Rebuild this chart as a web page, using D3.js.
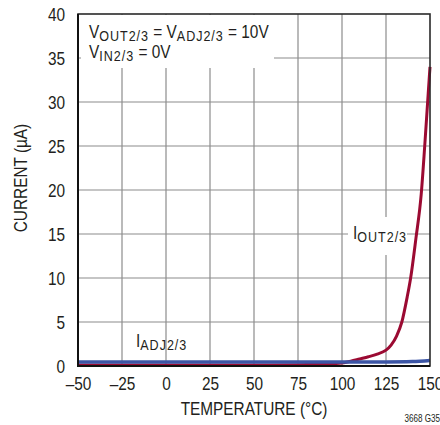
<!DOCTYPE html>
<html>
<head>
<meta charset="utf-8">
<script src="https://cdn.jsdelivr.net/npm/d3@7"></script>
<style>
  html, body { margin: 0; padding: 0; background: #fff; }
  svg { display: block; }
  text { font-family: "Liberation Sans", Arial, Helvetica, sans-serif; fill: #231f20; }
</style>
</head>
<body>
<svg id="chart" width="440" height="425"></svg>
<script>
// Temperature ticks (°C) and current ticks (µA)
const xTicks = [-50, -25, 0, 25, 50, 75, 100, 125, 150];
const xTickLabels = ["–50", "–25", "0", "25", "50", "75", "100", "125", "150"];
const yTicks = [0, 5, 10, 15, 20, 25, 30, 35, 40];

// I_OUT2/3 leakage vs temperature
const outTemp = [-50, 0, 50, 75, 90, 100, 105, 110, 115, 120, 125, 128, 131, 134, 137, 139, 142, 145, 147, 149, 150];
const outCurrent = [0.1, 0.1, 0.12, 0.15, 0.22, 0.35, 0.55, 0.8, 1.05, 1.35, 1.8, 2.4, 3.4, 5.0, 7.8, 10, 14.5, 19.5, 25, 31, 34];

// I_ADJ2/3 vs temperature
const adjTemp = [-50, 0, 50, 100, 125, 140, 150];
const adjCurrent = [0.45, 0.45, 0.45, 0.45, 0.46, 0.5, 0.62];

const NARROW = 0.81;      // horizontal squeeze for a condensed look
const FS = 19;            // base font size
const SUB_FS = 15.5;      // subscript font size

const svg = d3.select("#chart");
const m = { left: 78, top: 14, right: 430, bottom: 366 };

const x = d3.scaleLinear().domain([-50, 150]).range([m.left, m.right]);
const y = d3.scaleLinear().domain([0, 40]).range([m.bottom, m.top]);

// Grid
const grid = svg.append("g");
grid.selectAll(".vx").data(xTicks.slice(1, -1)).join("line")
  .attr("x1", d => x(d)).attr("x2", d => x(d))
  .attr("y1", m.top).attr("y2", m.bottom)
  .attr("stroke", "#8c8c8c").attr("stroke-width", 1.2);
grid.selectAll(".hy").data(yTicks.slice(1, -1)).join("line")
  .attr("x1", m.left).attr("x2", m.right)
  .attr("y1", d => y(d)).attr("y2", d => y(d))
  .attr("stroke", "#8c8c8c").attr("stroke-width", 1.2);

// Conditions box (white backing over the grid)
svg.append("rect").attr("x", 81).attr("y", m.top + 1).attr("width", 193).attr("height", 53).attr("fill", "#fff");
// I_OUT label backing
svg.append("rect").attr("x", 348).attr("y", 217).attr("width", 59).attr("height", 38).attr("fill", "#fff");

// Curves
const line = d3.line().x(d => x(d[0])).y(d => y(d[1])).curve(d3.curveMonotoneX);
svg.append("path")
  .datum(d3.zip(outTemp, outCurrent))
  .attr("d", line).attr("fill", "none")
  .attr("stroke", "#9b0a32").attr("stroke-width", 3);
svg.append("path")
  .datum(d3.zip(adjTemp, adjCurrent))
  .attr("d", line).attr("fill", "none")
  .attr("stroke", "#3c55a5").attr("stroke-width", 3.5);

// Frame
svg.append("rect").attr("x", m.left).attr("y", m.top)
  .attr("width", m.right - m.left).attr("height", m.bottom - m.top)
  .attr("fill", "none").attr("stroke", "#2a2a2a").attr("stroke-width", 1.6);
svg.append("path")
  .attr("d", `M${m.left},${m.top}V${m.bottom}H${m.right}`)
  .attr("fill", "none").attr("stroke", "#111").attr("stroke-width", 2);

// Axes (labels only; ticks are drawn as the grid)
const xAxis = d3.axisBottom(x).tickValues(xTicks)
  .tickFormat((d, i) => xTickLabels[i]).tickSize(0);
svg.append("g").attr("transform", `translate(0,${m.bottom})`).call(xAxis)
  .call(g => g.select(".domain").remove())
  .selectAll("text")
  .attr("y", 24).attr("dy", null)
  .attr("transform", `scale(${NARROW},1)`)
  .attr("font-size", FS).attr("font-family", null).style("fill", "#231f20");

const yAxis = d3.axisLeft(y).tickValues(yTicks).tickSize(0);
svg.append("g").attr("transform", `translate(${m.left},0)`).call(yAxis)
  .call(g => g.select(".domain").remove())
  .selectAll("text")
  .attr("x", -13 / NARROW).attr("dy", "0.34em")
  .attr("transform", `scale(${NARROW},1)`)
  .attr("font-size", FS).attr("font-family", null).style("fill", "#231f20");

// Text placed at (xp, yp), squeezed horizontally
function label(xp, yp, size, anchor, extra) {
  return svg.append("text")
    .attr("transform", `translate(${xp},${yp})${extra || ""} scale(${NARROW},1)`)
    .attr("text-anchor", anchor || "start")
    .attr("font-size", size);
}

// Axis titles
label(254, 415, FS, "middle").text("TEMPERATURE (°C)");
label(27, 178, FS, "middle", " rotate(-90)").text("CURRENT (µA)");
label(440, 422, 10, "end").text("3668 G35");

// Text with subscripts
function subText(xp, yp, parts) {
  const t = label(xp, yp, FS, "start");
  let shifted = false;
  parts.forEach(p => {
    const sub = p[1];
    const ts = t.append("tspan").text(p[0]);
    if (sub) ts.attr("font-size", SUB_FS).attr("letter-spacing", 1.2);
    if (sub && !shifted) { ts.attr("dy", 3); shifted = true; }
    else if (!sub && shifted) { ts.attr("dy", -3); shifted = false; }
  });
  return t;
}
subText(89, 38, [["V"], ["OUT2/3", 1], [" = V"], ["ADJ2/3", 1], [" = 10V"]]);
subText(89, 58, [["V"], ["IN2/3", 1], [" = 0V"]]);
subText(136, 347, [["I"], ["ADJ2/3", 1]]);
subText(353, 239, [["I"], ["OUT2/3", 1]]);
</script>
</body>
</html>
